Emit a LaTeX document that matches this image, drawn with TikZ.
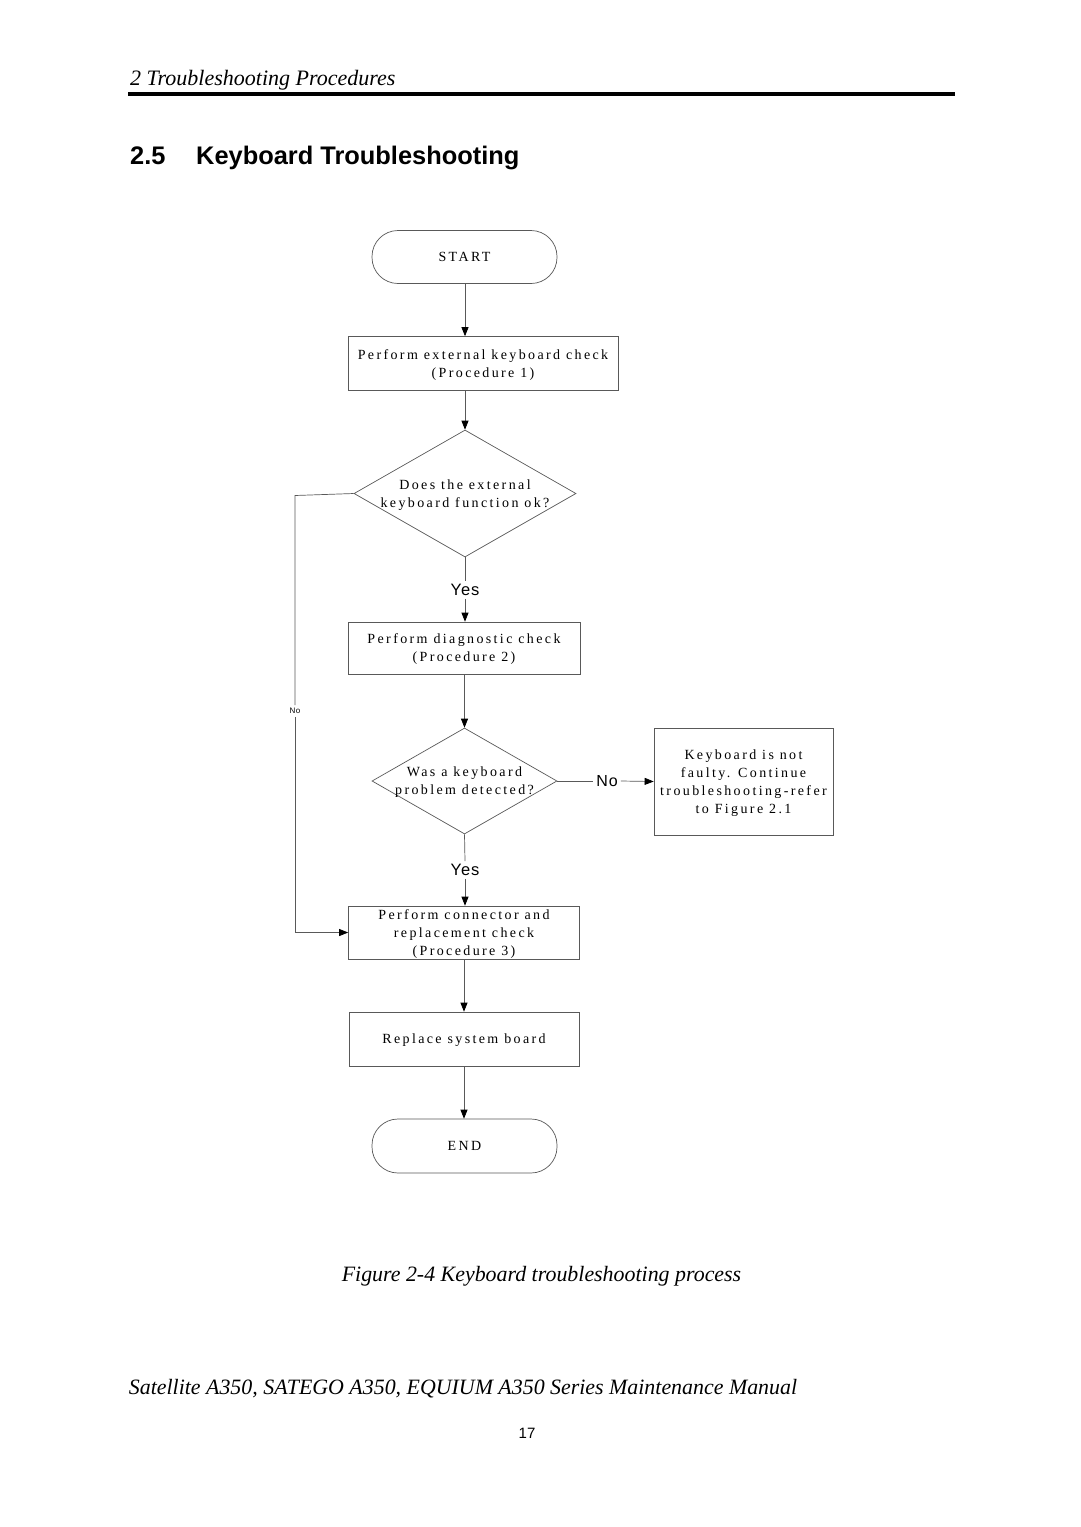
\documentclass[tikz,border=0pt]{standalone}
\usepackage{fontspec}
\setmainfont{Liberation Serif}
\setsansfont{Liberation Sans}
\newfontfamily\flowfont[LetterSpace=17]{Liberation Serif}
\newfontfamily\lblfont[LetterSpace=6]{Liberation Sans}
\usetikzlibrary{shapes.geometric,arrows.meta}
\newcommand\flowtxt{\flowfont\fontsize{14}{18}\selectfont}
\begin{document}
\begin{tikzpicture}[x=1pt,y=-1pt,
  line/.style={draw=black!65, line width=0.7pt},
  arr/.style={line, -{Triangle[length=9pt,width=7pt,color=black]}},
  box/.style={draw=black!65, line width=0.7pt, rectangle, inner sep=0pt, align=center, font=\flowtxt, text depth=0pt},
  term/.style={box, rounded corners=26pt},
  decision/.style={draw=black!65, line width=0.7pt, diamond, inner sep=0pt, aspect=1.75},
  txt/.style={align=center, font=\flowtxt, inner sep=0pt, text depth=0pt},
  lbl/.style={font=\lblfont\fontsize{16.5}{18}\selectfont, fill=white, inner sep=3pt},
  smalllbl/.style={font=\lblfont\fontsize{8}{9}\selectfont, fill=white, inner sep=3pt}
]
\useasboundingbox[fill=white] (0,0) rectangle (1080,1527);

% header
\node[anchor=base west, inner sep=0pt, font=\itshape\fontsize{22}{26}\selectfont] (hdr) at (130,85) {2 Troubleshooting Procedures};
\coordinate (ruleL) at (128,94);
\coordinate (ruleR) at (955,94);
\draw[line width=4pt] (ruleL) -- (ruleR);
\node[anchor=base west, inner sep=0pt, font=\sffamily\bfseries\fontsize{25.4}{30}\selectfont] (secnum) at (130,164) {2.5};
\node[anchor=base west, inner sep=0pt, font=\sffamily\bfseries\fontsize{25.4}{30}\selectfont] (sectitle) at (196,164) {Keyboard Troubleshooting};

% flowchart nodes
\node[term, minimum width=185pt, minimum height=53pt] (start) at (464.5,257) {START};
\node[box, minimum width=270pt, minimum height=54pt] (b1) at (483,363.5) {Perform external keyboard check\\(Procedure 1)};
\node[decision, minimum width=222pt, minimum height=127pt] (d1) at (465,493.5) {};
\node[txt] (d1t) at (465,493.5) {Does the external\\keyboard function ok?};
\node[lbl] (yes1) at (465,590) {Yes};
\node[box, minimum width=232pt, minimum height=52pt] (b2) at (464,648) {Perform diagnostic check\\(Procedure 2)};
\node[decision, minimum width=185pt, minimum height=106pt] (d2) at (464.5,781) {};
\node[txt] (d2t) at (464.5,781) {Was a keyboard\\problem detected?};
\node[lbl, font=\lblfont\fontsize{16}{18}\selectfont] (no2) at (607,781) {No};
\node[box, minimum width=179pt, minimum height=107pt] (rb) at (743.5,781.5) {Keyboard is not\\faulty. Continue\\troubleshooting-refer\\to Figure 2.1};
\node[lbl] (yes2) at (465,870) {Yes};
\node[box, minimum width=231pt, minimum height=53pt] (b3) at (464,932.5) {Perform connector and\\replacement check\\(Procedure 3)};
\node[box, minimum width=230pt, minimum height=54pt] (b4) at (464,1039) {Replace system board};
\node[term, minimum width=185pt, minimum height=54pt] (end) at (464.5,1146) {END};
\coordinate (nocorner) at (295,495.5);
\node[smalllbl] (no1) at (295,711) {No};

% connectors
\draw[arr] (start.south -| d1.north) -- (d1.north |- b1.north);
\draw[arr] (b1.south -| d1.north) -- (d1.north);
\draw[line] (d1.south) -- (yes1.north);
\draw[arr] (yes1.south) -- (b2.north -| yes1.south);
\draw[line] (d1.west) -- (nocorner) -- (no1.north);
\draw[arr] (no1.south) |- (b3.west);
\draw[arr] (b2.south -| d2.north) -- (d2.north);
\draw[line] (d2.east) -- (no2.west);
\draw[arr] (no2.east) -- (rb.west);
\draw[line] (d2.south) -- (yes2.north);
\draw[arr] (yes2.south) -- (b3.north -| yes2.south);
\draw[arr] (b3.south) -- (b4.north);
\draw[arr] (b4.south) -- (end.north -| b4.south);

% caption and footer
\node[anchor=base, inner sep=0pt, font=\itshape\fontsize{21.9}{26}\selectfont] (cap) at (541.5,1281) {Figure 2-4 Keyboard troubleshooting process};
\node[anchor=base, inner sep=0pt, font=\itshape\fontsize{21.9}{26}\selectfont] (foot) at (463,1394) {Satellite A350, SATEGO A350, EQUIUM A350 Series Maintenance Manual};
\node[anchor=base, inner sep=0pt, font=\sffamily\fontsize{15}{18}\selectfont] (pnum) at (527,1438) {17};
\end{tikzpicture}
\end{document}
